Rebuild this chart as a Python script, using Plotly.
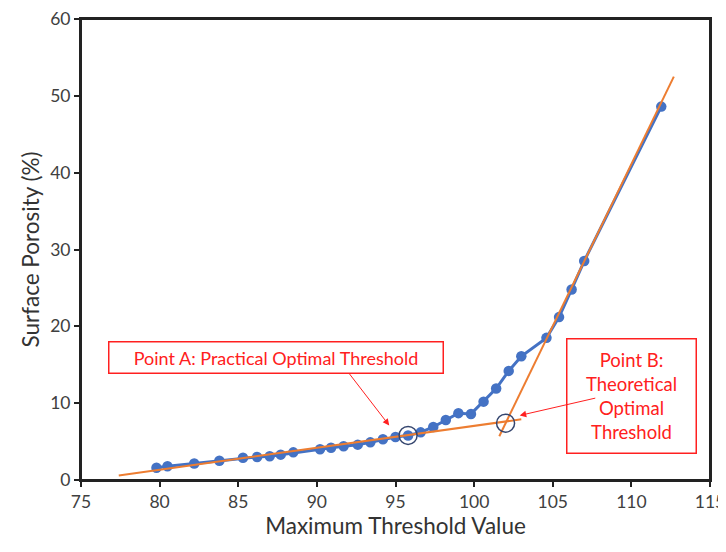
import plotly.graph_objects as go

threshold = [79.8, 80.5, 82.2, 83.8, 85.3, 86.2, 87.0, 87.7, 88.5, 90.2, 90.9, 91.7, 92.6,
             93.4, 94.2, 95.0, 95.8, 96.6, 97.4, 98.2, 99.0, 99.8, 100.6, 101.4, 102.2,
             103.0, 104.6, 105.4, 106.2, 107.0, 111.9]
porosity = [1.6, 1.8, 2.15, 2.5, 2.9, 3.0, 3.1, 3.3, 3.6, 4.0, 4.2, 4.4, 4.6,
            4.9, 5.3, 5.6, 5.8, 6.2, 6.9, 7.8, 8.7, 8.6, 10.2, 11.9, 14.2,
            16.1, 18.5, 21.2, 24.8, 28.5, 48.6]

fit1_x = [77.4, 103.0]
fit1_y = [0.6, 7.9]
fit2_x = [101.6, 112.7]
fit2_y = [5.7, 52.5]

circle_x = [95.8, 102.0]
circle_y = [5.8, 7.4]

FONT = "Lato"
RED = "#FF2020"

fig = go.Figure()
fig.add_trace(go.Scatter(x=threshold, y=porosity, mode="lines+markers",
                         line=dict(color="#4472C4", width=3),
                         marker=dict(color="#4472C4", size=10.5), showlegend=False))
fig.add_trace(go.Scatter(x=fit1_x, y=fit1_y, mode="lines",
                         line=dict(color="#ED7D31", width=2), showlegend=False))
fig.add_trace(go.Scatter(x=fit2_x, y=fit2_y, mode="lines",
                         line=dict(color="#ED7D31", width=2), showlegend=False))
fig.add_trace(go.Scatter(x=circle_x, y=circle_y, mode="markers",
                         marker=dict(symbol="circle-open", size=18, color="#34456E",
                                     line=dict(width=1.5, color="#34456E")),
                         showlegend=False))

annotations = [
    dict(x=87.4, y=16.0, xref="x", yref="y", showarrow=False,
         text="Point A: Practical Optimal Threshold",
         font=dict(family=FONT, size=18, color=RED),
         bordercolor=RED, borderwidth=1.5, bgcolor="white",
         width=327, height=24, borderpad=3),
    dict(x=94.6, y=7.1, ax=92.0, ay=14.0, xref="x", yref="y", axref="x", ayref="y",
         text="", showarrow=True, arrowhead=2, arrowsize=1.3, arrowwidth=1,
         arrowcolor=RED),
    dict(x=110.0, y=10.9, xref="x", yref="y", showarrow=False,
         text="Point B:<br>Theoretical<br>Optimal<br>Threshold",
         font=dict(family=FONT, size=18.5, color=RED),
         bordercolor=RED, borderwidth=1.5, bgcolor="white",
         width=122, height=107, borderpad=3),
    dict(x=102.9, y=8.4, ax=107.8, ay=10.7, xref="x", yref="y", axref="x", ayref="y",
         text="", showarrow=True, arrowhead=2, arrowsize=1.3, arrowwidth=1,
         arrowcolor=RED),
]

axis_common = dict(showgrid=False, zeroline=False, showline=True, linecolor="#222",
                   linewidth=2, mirror=True, ticks="outside", ticklen=5,
                   tickwidth=2, tickcolor="#222", automargin=False,
                   ticklabeloverflow="allow",
                   tickfont=dict(family=FONT, size=17.5, color="#404040"))

# the page body adds an 8px offset; margins compensate so the plot area
# lands where the reference has it within the 726x552 window
fig.update_layout(
    width=726, height=552,
    margin=dict(l=73, r=24, t=11, b=80),
    plot_bgcolor="white", paper_bgcolor="white",
    xaxis=dict(range=[75, 115], tickvals=list(range(75, 116, 5)),
               title=dict(text="Maximum Threshold Value",
                          font=dict(family=FONT, size=22.5, color="#333"), standoff=6),
               **axis_common),
    yaxis=dict(range=[0, 60], tickvals=list(range(0, 61, 10)),
               title=dict(text="Surface Porosity (%)",
                          font=dict(family=FONT, size=22.5, color="#333"), standoff=4),
               **axis_common),
    shapes=[dict(type="rect", xref="paper", yref="paper", x0=0, x1=1, y0=0, y1=1,
                 line=dict(color="#222", width=2), layer="above")],
    annotations=annotations,
)

fig.write_html("out.html")
